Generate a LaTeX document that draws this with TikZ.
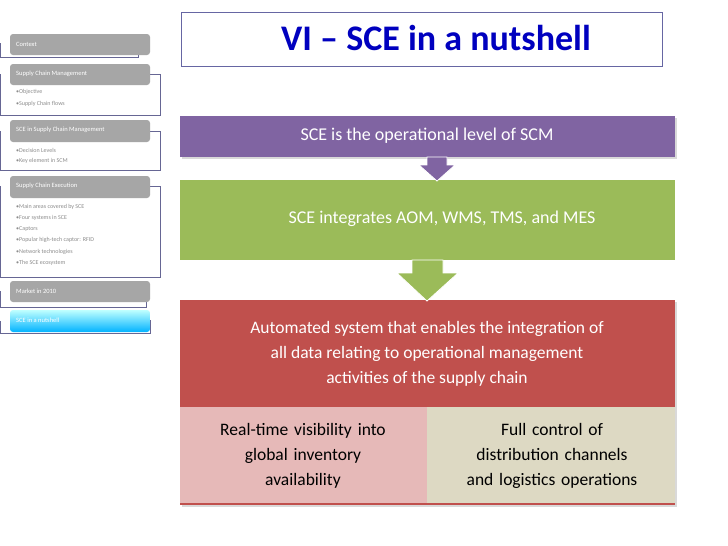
\documentclass[tikz,border=0pt]{standalone}
\usepackage{fontspec}
\setmainfont{Carlito}
\begin{document}
\begin{tikzpicture}[x=1pt,y=-1pt,
  sbox/.style={rounded corners=3pt,fill=black!35,draw=none},
  stxt/.style={anchor=west,text=white,font=\fontsize{6.5}{7}\selectfont,inner sep=0},
  itm/.style={anchor=west,text=black!45,font=\fontsize{6}{7}\selectfont,inner sep=0},
  frm/.style={draw=blue!30!black!60,line width=0.6pt},
  band/.style={text=white,font=\fontsize{18}{21}\selectfont,align=center},
  cell/.style={text=black,font=\fontsize{17}{20}\selectfont,align=center}]
\useasboundingbox (0,0) rectangle (728,546);
\fill[white] (0,0) rectangle (728,546);
% sidebar frames
\draw[frm] (0,43) -- (0,57) -- (138,57) -- (138,55);
\draw[frm] (150,74) -- (160,74) -- (160,115) -- (0,115) -- (0,74);
\draw[frm] (150,131) -- (160,131) -- (160,170) -- (0,170) -- (0,131);
\draw[frm] (150,186) -- (160,186) -- (160,277) -- (0,277) -- (0,186);
\draw[frm] (0,291) -- (0,307) -- (146,307) -- (146,302);
\draw[frm] (0,321) -- (0,333) -- (150,333) -- (150,320);
% sidebar boxes
\fill[sbox] (10,34) rectangle (150,55); \node[stxt] (c1) at (16,44) {Context};
\fill[sbox] (10,64) rectangle (150,85); \node[stxt] (c2) at (16,74) {Supply Chain Management};
\node[itm] at (16,92) {\textbullet Objective};
\node[itm] at (16,104) {\textbullet Supply Chain flows};
\fill[sbox] (10,120) rectangle (150,142); \node[stxt] (c3) at (16,130) {SCE in Supply Chain Management};
\node[itm] at (16,150) {\textbullet Decision Levels};
\node[itm] at (16,161) {\textbullet Key element in SCM};
\fill[sbox] (10,176) rectangle (150,198); \node[stxt] (c4) at (16,186) {Supply Chain Execution};
\node[itm] at (16,207) {\textbullet Main areas covered by SCE};
\node[itm] at (16,218) {\textbullet Four systems in SCE};
\node[itm] at (16,229) {\textbullet Captors};
\node[itm] at (16,240) {\textbullet Popular high-tech captor: RFID};
\node[itm] at (16,252) {\textbullet Network technologies};
\node[itm] at (16,263) {\textbullet The SCE ecosystem};
\fill[sbox] (10,281) rectangle (150,302); \node[stxt] (c5) at (16,291) {Market in 2010};
\shade[rounded corners=3pt,top color=cyan!25,bottom color=cyan!70!blue] (10,310) rectangle (150,332);
\node[stxt] (c6) at (16,320) {SCE in a nutshell};
% title
\draw[draw=blue!40!black!60,line width=0.8pt] (181,12) rectangle (662,66);
\node[font=\bfseries\fontsize{36}{40}\selectfont,text=blue!75!black] (title) at (436,38) {VI – SCE in a nutshell};
% bands
\fill[black!15] (182,118) rectangle (677,159);
\fill[fill={rgb,255:red,128;green,100;blue,162}] (180,116) rectangle (675,157);
\node[band] (p) at (427,136) {SCE is the operational level of SCM};
\fill[fill={rgb,255:red,155;green,187;blue,89}] (180,180) rectangle (675,260);
\node[band] (g) at (442,219) {SCE integrates AOM, WMS, TMS, and MES};
\fill[fill={rgb,255:red,128;green,100;blue,162},draw=white,line width=0.8pt]
  (427,157) -- (447,157) -- (447,165) -- (455,165) -- (437,181) -- (419,165) -- (427,165) -- cycle;
\fill[black!15] (182,302) rectangle (677,507);
\fill[fill={rgb,255:red,192;green,80;blue,77}] (180,300) rectangle (675,407);
\fill[fill={rgb,255:red,230;green,185;blue,184}] (180,407) rectangle (427,505);
\fill[fill={rgb,255:red,221;green,217;blue,195}] (427,407) rectangle (675,505);
\draw[fill={rgb,255:red,192;green,80;blue,77},draw=none] (180,503) rectangle (675,505);
\node[band,font=\fontsize{17.5}{25}\selectfont] (r) at (427,354) {Automated system that enables the integration of\\all data relating to operational management\\activities of the supply chain};
\node[cell,text width=240pt,font=\fontsize{17.5}{25}\selectfont] (l) at (303,456) {Real-time visibility into\\global inventory\\availability};
\node[cell,text width=240pt,font=\fontsize{17.5}{25}\selectfont] (rr) at (552,456) {Full control of\\distribution channels\\and logistics operations};
\fill[fill={rgb,255:red,155;green,187;blue,89},draw=white,line width=0.8pt]
  (412,260) -- (443,260) -- (443,273) -- (458,273) -- (427,301) -- (397,273) -- (412,273) -- cycle;
\end{tikzpicture}
\end{document}
